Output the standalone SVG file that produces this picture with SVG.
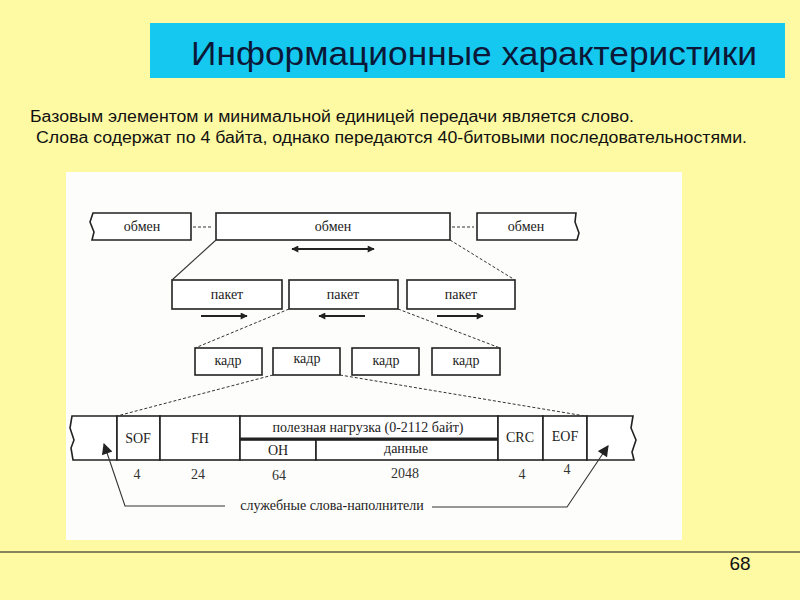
<svg xmlns="http://www.w3.org/2000/svg" width="800" height="600" viewBox="0 0 800 600">
<defs>
<style>
.box{fill:#ffffff;stroke:#222;stroke-width:1.6}
.lbl{font-family:"Liberation Serif","DejaVu Serif",serif;font-size:14px;fill:#222;text-anchor:middle}
.num{font-family:"Liberation Serif","DejaVu Serif",serif;font-size:14px;fill:#333;text-anchor:middle}
.dash{fill:none;stroke:#333;stroke-width:1;stroke-dasharray:3,2}
.arr{fill:none;stroke:#222;stroke-width:2.2}
.thin{fill:none;stroke:#333;stroke-width:1.1}
</style>
<marker id="ah" viewBox="0 0 10 10" refX="9" refY="5" markerWidth="9" markerHeight="7" orient="auto-start-reverse" markerUnits="userSpaceOnUse">
<path d="M0,0 L10,5 L0,10 Z" fill="#222"/>
</marker>
<marker id="ah2" viewBox="0 0 10 10" refX="9" refY="5" markerWidth="13" markerHeight="11" orient="auto" markerUnits="userSpaceOnUse">
<path d="M0,0 L10,5 L0,10 Z" fill="#222"/>
</marker>
</defs>
<rect x="0" y="0" width="800" height="600" fill="#fefaa3"/>
<g id="title">
<rect x="150" y="23" width="635" height="55" fill="#14c8f0"/>
<text x="191" y="65" font-family="Liberation Sans, Arial, sans-serif" font-size="34" fill="#0b1838" textLength="566" lengthAdjust="spacingAndGlyphs">Информационные характеристики</text>
</g>
<g id="body" font-family="Liberation Sans, Arial, sans-serif" font-size="16" fill="#111">
<text x="30" y="122" textLength="604" lengthAdjust="spacingAndGlyphs">Базовым элементом и минимальной единицей передачи является слово.</text>
<text x="36" y="143" textLength="711" lengthAdjust="spacingAndGlyphs">Слова содержат по 4 байта, однако передаются 40-битовыми последовательностями.</text>
</g>
<rect id="panel" x="66" y="172" width="616" height="368" fill="#fdfdfb"/>
<g id="exchange-left">
<path class="box" d="M93,213 L191,213 L191,240 L92,240 L94,232 L90,222 Z"/>
<text class="lbl" x="142" y="231">обмен</text>
</g>
<g id="exchange-mid">
<rect class="box" x="216" y="213" width="234" height="27"/>
<text class="lbl" x="333" y="231">обмен</text>
</g>
<g id="exchange-right">
<path class="box" d="M477,213 L576,213 L575,222 L579,233 L577,240 L477,240 Z"/>
<text class="lbl" x="526" y="231">обмен</text>
</g>
<g id="packet-1"><rect class="box" x="172" y="280" width="110" height="29"/><text class="lbl" x="227" y="299">пакет</text></g>
<g id="packet-2"><rect class="box" x="289" y="280" width="109" height="29"/><text class="lbl" x="343" y="299">пакет</text></g>
<g id="packet-3"><rect class="box" x="407" y="280" width="108" height="29"/><text class="lbl" x="461" y="299">пакет</text></g>
<g id="frame-1"><rect class="box" x="195" y="348" width="67" height="27"/><text class="lbl" x="228" y="365">кадр</text></g>
<g id="frame-2"><rect class="box" x="273" y="348" width="67" height="27"/><text class="lbl" x="307" y="363">кадр</text></g>
<g id="frame-3"><rect class="box" x="352" y="348" width="67" height="27"/><text class="lbl" x="386" y="365">кадр</text></g>
<g id="frame-4"><rect class="box" x="432" y="348" width="68" height="27"/><text class="lbl" x="466" y="365">кадр</text></g>
<g id="fill-left"><path class="box" d="M72,416 L117,416 L117,460 L73,460 L71,448 L74,440 L70,428 Z"/></g>
<g id="sof"><rect class="box" x="117" y="416" width="43" height="44"/><text class="lbl" x="138" y="443">SOF</text></g>
<g id="fh"><rect class="box" x="160" y="416" width="80" height="44"/><text class="lbl" x="200" y="443">FH</text></g>
<g id="payload">
<rect class="box" x="240" y="416" width="258" height="24"/>
<text class="lbl" x="368" y="432">полезная нагрузка (0-2112 байт)</text>
<line x1="240" y1="439" x2="498" y2="439" stroke="#222" stroke-width="3"/>
</g>
<g id="oh"><rect class="box" x="240" y="440" width="76" height="20"/><text class="lbl" x="278" y="455">OH</text></g>
<g id="data"><rect class="box" x="316" y="440" width="182" height="20"/><text class="lbl" x="406" y="453">данные</text></g>
<g id="crc"><rect class="box" x="498" y="416" width="45" height="44"/><text class="lbl" x="520" y="442">CRC</text></g>
<g id="eof"><rect class="box" x="543" y="416" width="44" height="44"/><text class="lbl" x="565" y="441">EOF</text></g>
<g id="fill-right"><path class="box" d="M587,416 L633,416 L631,428 L636,440 L632,452 L634,460 L587,460 Z"/></g>
<g id="sizes">
<text class="num" x="137" y="479">4</text>
<text class="num" x="198" y="479">24</text>
<text class="num" x="279" y="480">64</text>
<text class="num" x="405" y="478">2048</text>
<text class="num" x="522" y="479">4</text>
<text class="num" x="567" y="474">4</text>
</g>
<g id="filler-label"><text class="lbl" x="332" y="510">служебные слова-наполнители</text></g>
<g id="connectors">
<line class="dash" x1="193" y1="227" x2="213" y2="227"/>
<line class="dash" x1="452" y1="227" x2="474" y2="227"/>
<line class="thin" x1="216" y1="240" x2="172" y2="280"/>
<line class="dash" x1="450" y1="240" x2="515" y2="280"/>
<line class="dash" x1="289" y1="309" x2="195" y2="348"/>
<line class="dash" x1="398" y1="309" x2="500" y2="348"/>
<line class="dash" x1="273" y1="375" x2="117" y2="416"/>
<line class="dash" x1="340" y1="375" x2="585" y2="416"/>
<line class="arr" x1="292" y1="249" x2="374" y2="249" marker-start="url(#ah)" marker-end="url(#ah)"/>
<line class="arr" x1="201" y1="316" x2="247" y2="316" marker-end="url(#ah)"/>
<line class="arr" x1="365" y1="316" x2="319" y2="316" marker-end="url(#ah)"/>
<line class="arr" x1="437" y1="316" x2="483" y2="316" marker-end="url(#ah)"/>
<polyline class="thin" points="225,506 125,506 104,444" marker-end="url(#ah2)"/>
<polyline class="thin" points="432,507 567,507 608,446" marker-end="url(#ah2)"/>
</g>
<line x1="0" y1="552" x2="800" y2="552" stroke="#111" stroke-width="1.2"/>
<text x="740" y="570" font-family="Liberation Sans, Arial, sans-serif" font-size="19" fill="#111" text-anchor="middle">68</text>
</svg>
